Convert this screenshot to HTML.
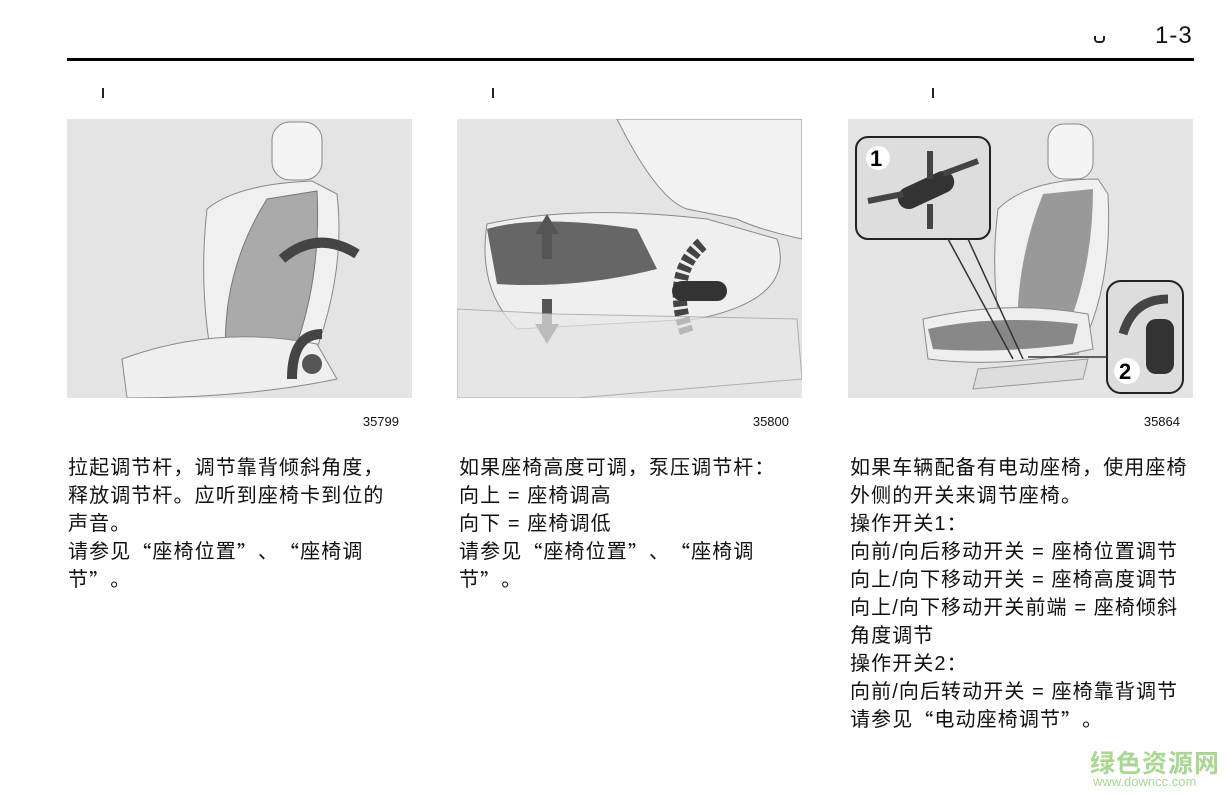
<!DOCTYPE html>
<html><head><meta charset="utf-8"><style>
body{margin:0;width:1226px;height:798px;background:#fff;position:relative;overflow:hidden;font-family:"Liberation Sans","Noto Sans CJK SC",sans-serif;color:#111}
.abs{position:absolute}
.panel{position:absolute;top:119px;width:345px;height:279px;background:#e4e4e4;overflow:hidden}
.num{position:absolute;top:414px;font-size:13px;text-align:right;width:345px}
.txt{position:absolute;top:454px;font-size:20px;letter-spacing:1.1px;line-height:28px;white-space:nowrap}
.q{font-family:"Noto Sans CJK SC",sans-serif;line-height:1;vertical-align:top;display:inline-block;height:28px;line-height:28px}
.tick{position:absolute;top:88px;width:2px;height:10px;background:#222}
</style></head><body>
<div class="abs" style="left:1155px;top:22px;font-size:24px;letter-spacing:1px">1-3</div>
<div class="abs" style="left:1094px;top:36px;width:7px;height:5px;border:2px solid #222;border-top:none;border-radius:0 0 4px 4px"></div>
<div class="abs" style="left:67px;top:58px;width:1127px;height:3px;background:#000"></div>
<div class="tick" style="left:102px"></div><div class="tick" style="left:492px"></div><div class="tick" style="left:932px"></div>

<div class="panel" style="left:67px">
<svg width="345" height="279">
<rect x="205" y="3" width="50" height="58" rx="18" fill="#f4f4f4" stroke="#888"/>
<path d="M140 90 Q170 65 245 62 L270 75 Q280 160 240 255 L150 265 Q130 180 140 90Z" fill="#f0f0f0" stroke="#888"/>
<path d="M200 80 L250 72 Q255 170 220 250 L160 255 Q150 160 200 80Z" fill="#aaa" stroke="#777"/>
<path d="M55 240 Q150 205 250 225 L270 260 Q180 279 60 279Z" fill="#efefef" stroke="#888"/>
<path d="M215 140 Q250 110 290 135" fill="none" stroke="#444" stroke-width="10"/>
<path d="M225 260 Q225 215 255 215" fill="none" stroke="#444" stroke-width="10"/>
<circle cx="245" cy="245" r="10" fill="#555"/>
</svg></div>
<div class="num" style="left:54px">35799</div>

<div class="panel" style="left:457px">
<svg width="345" height="279">
<path d="M160 0 L345 0 L345 120 Q300 110 280 100 L230 90 Q200 80 160 0Z" fill="#f2f2f2" stroke="#888"/>
<path d="M30 105 Q120 85 250 100 L320 120 Q340 180 240 200 L60 210 Q20 170 30 105Z" fill="#efefef" stroke="#888"/>
<path d="M30 110 Q80 95 180 110 L200 150 Q120 170 40 165Z" fill="#666"/>
<path d="M90 110 L90 140" stroke="#555" stroke-width="10"/><path d="M78 115 L90 95 L102 115Z" fill="#555"/>
<path d="M90 180 L90 210" stroke="#555" stroke-width="10"/><path d="M78 205 L90 225 L102 205Z" fill="#555"/>
<path d="M245 125 Q210 155 230 215" fill="none" stroke="#444" stroke-width="14" stroke-dasharray="6 3"/>
<rect x="215" y="162" width="55" height="20" rx="10" fill="#333"/>
<path d="M0 190 L100 195 L340 200 L345 260 L120 279 L0 279Z" fill="#e8e8e8" stroke="#999" opacity="0.7"/>
</svg></div>
<div class="num" style="left:444px">35800</div>

<div class="panel" style="left:848px">
<svg width="345" height="279">
<rect x="200" y="5" width="45" height="55" rx="16" fill="#f4f4f4" stroke="#888"/>
<path d="M150 90 Q180 60 250 60 L260 75 Q265 170 230 235 L160 240 Q140 170 150 90Z" fill="#f0f0f0" stroke="#888"/>
<path d="M195 75 L245 70 Q245 160 210 230 L170 232 Q165 150 195 75Z" fill="#999"/>
<path d="M75 200 Q160 180 240 195 L245 230 Q160 250 80 240Z" fill="#eee" stroke="#888"/>
<path d="M80 210 Q150 195 230 205 L225 225 Q150 235 85 230Z" fill="#888"/>
<path d="M130 250 L240 240 L235 260 L125 270Z" fill="#ddd" stroke="#999"/>
<rect x="8" y="18" width="134" height="102" rx="12" fill="#ddd" stroke="#222" stroke-width="2"/>
<circle cx="30" cy="39" r="12" fill="#fff"/><text x="22" y="47" font-size="22" font-weight="bold" font-family="Liberation Sans">1</text>
<rect x="48" y="60" width="60" height="22" rx="11" fill="#333" transform="rotate(-25 78 71)"/>
<path d="M20 82 L55 75 M82 32 L82 60 M82 85 L82 110 M95 55 L130 42" stroke="#444" stroke-width="6"/>
<line x1="100" y1="120" x2="165" y2="240" stroke="#333" stroke-width="1.5"/>
<line x1="120" y1="120" x2="175" y2="240" stroke="#333" stroke-width="1.5"/>
<line x1="180" y1="238" x2="262" y2="238" stroke="#333" stroke-width="1.5"/>
<rect x="259" y="162" width="76" height="112" rx="14" fill="#ddd" stroke="#222" stroke-width="2"/>
<rect x="298" y="200" width="28" height="55" rx="10" fill="#333"/>
<path d="M275 215 Q285 180 320 180" fill="none" stroke="#444" stroke-width="9"/>
<circle cx="279" cy="252" r="13" fill="#fff"/><text x="271" y="260" font-size="22" font-weight="bold" font-family="Liberation Sans">2</text>
</svg></div>
<div class="num" style="left:835px">35864</div>

<div class="txt" style="left:68px">拉起调节杆，调节靠背倾斜角度，<br>释放调节杆。应听到座椅卡到位的<br>声音。<br>请参见<span class="q">“</span>座椅位置<span class="q">”</span>、<span class="q">“</span>座椅调<br>节<span class="q">”</span>。</div>
<div class="txt" style="left:459px">如果座椅高度可调，泵压调节杆：<br>向上 = 座椅调高<br>向下 = 座椅调低<br>请参见<span class="q">“</span>座椅位置<span class="q">”</span>、<span class="q">“</span>座椅调<br>节<span class="q">”</span>。</div>
<div class="txt" style="left:850px">如果车辆配备有电动座椅，使用座椅<br>外侧的开关来调节座椅。<br>操作开关1：<br>向前/向后移动开关 = 座椅位置调节<br>向上/向下移动开关 = 座椅高度调节<br>向上/向下移动开关前端 = 座椅倾斜<br>角度调节<br>操作开关2：<br>向前/向后转动开关 = 座椅靠背调节<br>请参见<span class="q">“</span>电动座椅调节<span class="q">”</span>。</div>

<div class="abs" style="left:1090px;top:744px;font-size:25px;color:#a8d890;font-weight:bold;letter-spacing:1px">绿色资源网</div>
<div class="abs" style="left:1093px;top:774px;font-size:13px;color:#a8d890">www.downcc.com</div>
</body></html>
